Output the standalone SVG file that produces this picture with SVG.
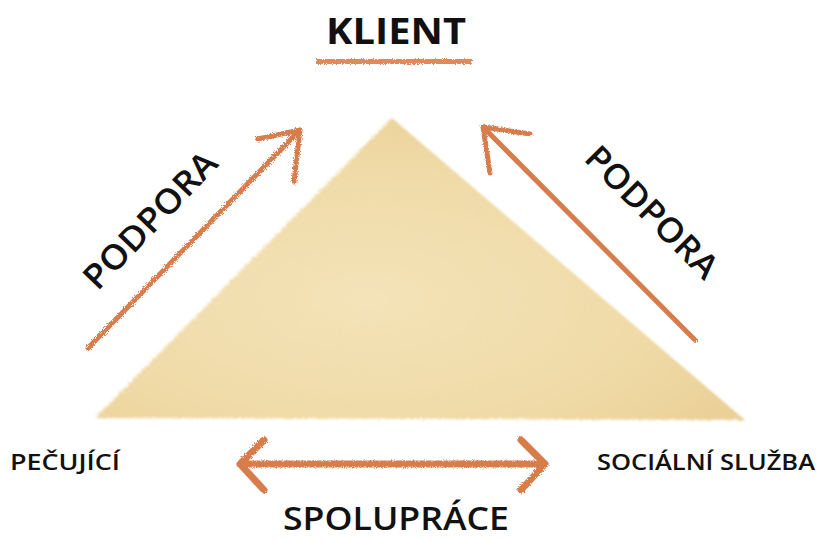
<svg xmlns="http://www.w3.org/2000/svg" width="817" height="542" viewBox="0 0 817 542">
<defs>
<radialGradient id="tri" cx="0.42" cy="0.6" r="0.7">
<stop offset="0" stop-color="#f4e3b8"/>
<stop offset="0.6" stop-color="#f0dba8"/>
<stop offset="1" stop-color="#e9cf95"/>
</radialGradient>
<filter id="rough" x="-5%" y="-5%" width="110%" height="110%">
<feTurbulence type="fractalNoise" baseFrequency="0.9" numOctaves="2" seed="3"/>
<feDisplacementMap in="SourceGraphic" scale="4"/>
</filter>
<filter id="soft" x="-5%" y="-5%" width="110%" height="110%">
<feTurbulence type="fractalNoise" baseFrequency="0.6" numOctaves="2" seed="5"/>
<feDisplacementMap in="SourceGraphic" scale="6"/>
<feGaussianBlur stdDeviation="0.8"/>
</filter>
</defs>
<style>
.lbl{font-family:"Open Sans","Liberation Sans",sans-serif;fill:#111;}
.arr{fill:none;stroke:#d67d4c;stroke-linecap:round;stroke-linejoin:round;}
</style>
<rect width="817" height="542" fill="#ffffff"/>
<g id="triangle">
<polygon points="392,118 95,418 745,420" fill="url(#tri)" filter="url(#soft)"/>
</g>
<g id="klient">
<text class="lbl" x="396" y="44" font-size="35" font-weight="bold" text-anchor="middle" textLength="140" lengthAdjust="spacingAndGlyphs">KLIENT</text>
<rect x="316" y="59" width="156" height="5" fill="#e08a5a" filter="url(#rough)"/>
</g>
<g id="pecujici">
<text class="lbl" x="10" y="470" font-size="21" font-weight="600" textLength="110" lengthAdjust="spacingAndGlyphs">PEČUJÍCÍ</text>
</g>
<g id="socialni-sluzba">
<text class="lbl" x="597" y="470" font-size="21" font-weight="600" textLength="218" lengthAdjust="spacingAndGlyphs">SOCIÁLNÍ SLUŽBA</text>
</g>
<g id="spoluprace">
<text class="lbl" x="396" y="530" font-size="33" font-weight="600" text-anchor="middle" textLength="226" lengthAdjust="spacingAndGlyphs">SPOLUPRÁCE</text>
</g>
<g id="podpora-left">
<text class="lbl" transform="translate(150,220) rotate(-46)" x="0" y="12" font-size="34" font-weight="600" text-anchor="middle" textLength="176" lengthAdjust="spacingAndGlyphs">PODPORA</text>
</g>
<g id="podpora-right">
<text class="lbl" transform="translate(652,212) rotate(45)" x="0" y="12" font-size="34" font-weight="600" text-anchor="middle" textLength="172" lengthAdjust="spacingAndGlyphs">PODPORA</text>
</g>
<g id="connectors" filter="url(#rough)">
<path class="arr" stroke-width="5" d="M88,348 L300,130 M258,139 L300,130 L294,182"/>
<path class="arr" stroke-width="5" d="M695,340 L483,127 M530,134 L483,127 L490,173"/>
<path class="arr" stroke-width="7" d="M240,464 L545,464 M264,440 L240,464 L264,490 M521,440 L545,464 L521,490"/>
</g>
</svg>
